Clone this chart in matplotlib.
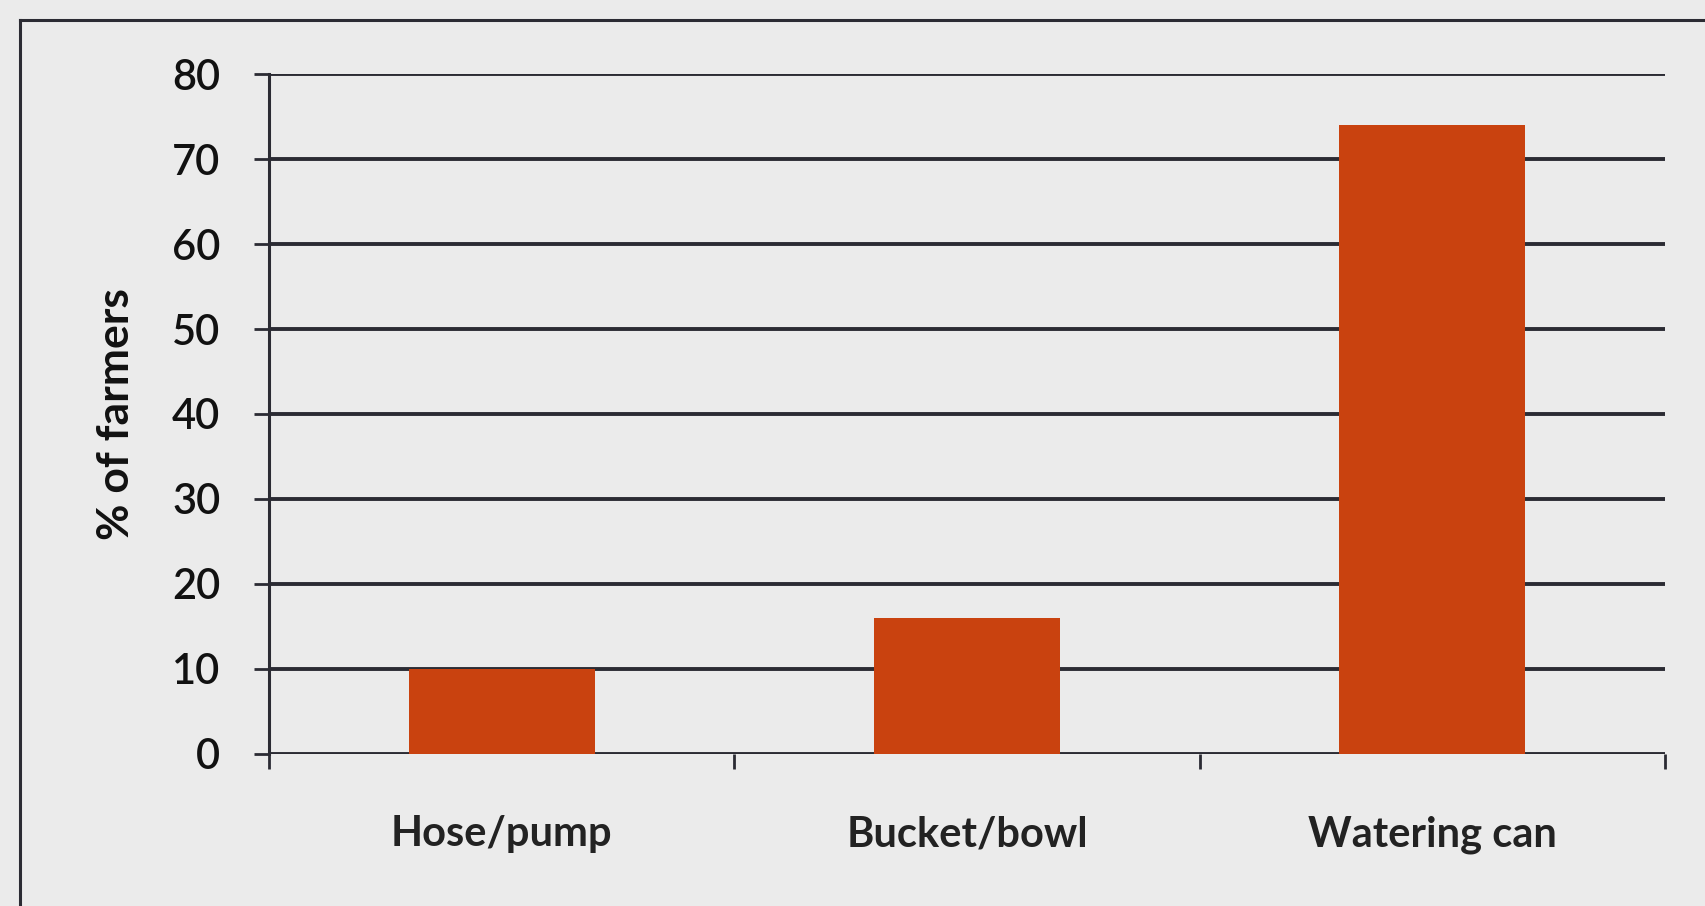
import matplotlib.pyplot as plt
from matplotlib.lines import Line2D

methods = ['Hose/pump', 'Bucket/bowl', 'Watering can']
pct_farmers = [10, 16, 74]
y_ticks = [0, 10, 20, 30, 40, 50, 60, 70, 80]

bg = '#ebebeb'
bar_color = '#c9420f'
line_color = '#2b2b33'

plt.rcParams['font.family'] = ['Lato', 'DejaVu Sans']

fig = plt.figure(figsize=(17.06, 9.06), dpi=100, facecolor=bg)
ax = fig.add_axes([0.1577, 0.1678, 0.8183, 0.7505])
ax.set_facecolor(bg)

x = list(range(len(methods)))
ax.bar(x, pct_farmers, width=0.4, color=bar_color, zorder=3)

ax.set_xlim(-0.5, len(methods) - 0.5)
ax.set_ylim(0, 80)
ax.set_yticks(y_ticks)
ax.set_yticklabels([str(v) for v in y_ticks], fontsize=30, fontweight='semibold',
                   color='#111111')
for v in y_ticks:
    ax.axhline(v, color=line_color, lw=2.8, zorder=2)

# category labels centred, category ticks on the boundaries
ax.set_xticks(x)
ax.set_xticklabels(methods, fontsize=30, fontweight='bold', color='#222222')
ax.tick_params(axis='x', length=0, pad=44)
ax.set_xticks([i - 0.5 for i in range(len(methods) + 1)], minor=True)
ax.tick_params(axis='x', which='minor', length=11, width=2, color=line_color,
               direction='out')
ax.tick_params(axis='y', length=11, width=2, color=line_color, pad=24)

for s in ['top', 'right', 'bottom']:
    ax.spines[s].set_visible(False)
ax.spines['left'].set_color(line_color)
ax.spines['left'].set_linewidth(2.2)

ax.set_ylabel('% of farmers', fontsize=32, fontweight='bold', color='#111111')
ax.yaxis.set_label_coords(-0.095, 0.5)

# scanned page frame
fig.add_artist(Line2D([20 / 1706, 20 / 1706], [0, 1 - 20 / 906],
                      color=line_color, lw=2.2))
fig.add_artist(Line2D([20 / 1706, 1], [1 - 20 / 906, 1 - 20 / 906],
                      color=line_color, lw=2.2))

fig.savefig('out.png', dpi=100, facecolor=bg)
